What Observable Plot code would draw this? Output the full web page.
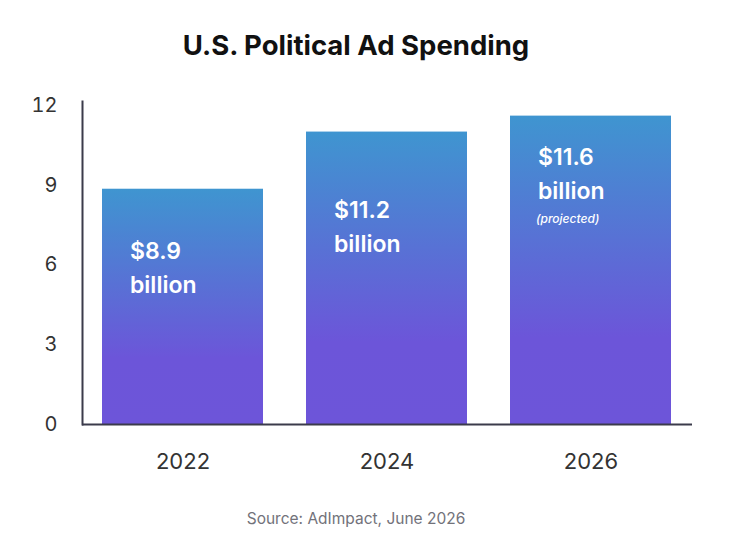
<!DOCTYPE html>
<html>
<head>
<meta charset="utf-8">
<script src="https://cdn.jsdelivr.net/npm/d3@7"></script>
<script src="https://cdn.jsdelivr.net/npm/@observablehq/plot@0.6"></script>
<style>
  body { margin: 0; background: #fff; font-family: Inter, "Noto Sans", sans-serif; }
  #wrap { width: 736px; height: 560px; position: relative; }
  .title { height: 80px; box-sizing: border-box; padding: 27px 24px 0 0; text-align: center;
           font-size: 27.5px; font-weight: 700; color: #111; line-height: 36px; letter-spacing: 0px; }
  .caption { text-align: center; padding-right: 24px; font-size: 15.5px; color: #72727a; line-height: 20px; margin-top: 9px; }
</style>
</head>
<body>
<div id="wrap">
  <div class="title">U.S. Political Ad Spending</div>
  <div id="chart"></div>
  <div class="caption">Source: AdImpact, June 2026</div>
</div>
<script>
const years = ["2022", "2024", "2026"];
const spending = [8.85, 11.0, 11.6];        // bar heights as drawn (billions USD)
const amountLabels = ["$8.9", "$11.2", "$11.6"];
const unitLabels = ["billion", "billion", "billion"];
const noteLabels = ["", "", "(projected)"];
const yTicks = [0, 3, 6, 9, 12];

// where each label block sits inside its bar (y in data units)
const labelAnchor = [6.51, 8.05, 10.04];

const data = years.map((y, i) => ({
  year: y, value: spending[i], amount: amountLabels[i],
  unit: unitLabels[i], note: noteLabels[i], ly: labelAnchor[i]
}));

const gradientDefs = () => {
  const ns = "http://www.w3.org/2000/svg";
  const defs = document.createElementNS(ns, "defs");
  const g = document.createElementNS(ns, "linearGradient");
  g.setAttribute("id", "barGrad");
  g.setAttribute("x1", "0"); g.setAttribute("y1", "0");
  g.setAttribute("x2", "0"); g.setAttribute("y2", "1");
  [["0", "#3f95d0"], ["0.72", "#6c55d9"], ["1", "#6d55d9"]].forEach(([o, c]) => {
    const s = document.createElementNS(ns, "stop");
    s.setAttribute("offset", o); s.setAttribute("stop-color", c);
    g.appendChild(s);
  });
  defs.appendChild(g);
  return defs;
};

const chart = Plot.plot({
  width: 736,
  height: 420,
  marginTop: 21,
  marginBottom: 76,
  marginLeft: 82,
  marginRight: 44,
  style: { fontFamily: "Inter, 'Noto Sans', sans-serif", background: "transparent" },
  x: { domain: years, paddingInner: 0.21, paddingOuter: 0.1, label: null },
  y: { domain: [0, 12.15], label: null },
  marks: [
    gradientDefs,
    Plot.barY(data, { x: "year", y: "value", fill: "url(#barGrad)" }),
    Plot.axisY({ ticks: yTicks, tickSize: 0, tickPadding: 25, fontSize: 20, fill: "#333", label: null }),
    Plot.axisX({ tickSize: 0, tickPadding: 29, fontSize: 22, fill: "#333", label: null }),
    Plot.frame({ anchor: "left", stroke: "#3b3b4b", strokeWidth: 2 }),
    Plot.ruleY([0], { stroke: "#3b3b4b", strokeWidth: 2 }),
    Plot.text(data, { x: "year", y: "ly", text: "amount", textAnchor: "start", dx: -53,
      fill: "white", fontSize: 23, fontWeight: 600 }),
    Plot.text(data, { x: "year", y: "ly", text: "unit", textAnchor: "start", dx: -53, dy: 34,
      fill: "white", fontSize: 23, fontWeight: 600 }),
    Plot.text(data, { x: "year", y: "ly", text: "note", textAnchor: "start", dx: -55, dy: 62,
      fill: "white", fontSize: 12, fontStyle: "italic", fontWeight: 500 })
  ]
});
document.getElementById("chart").appendChild(chart);
</script>
</body>
</html>
